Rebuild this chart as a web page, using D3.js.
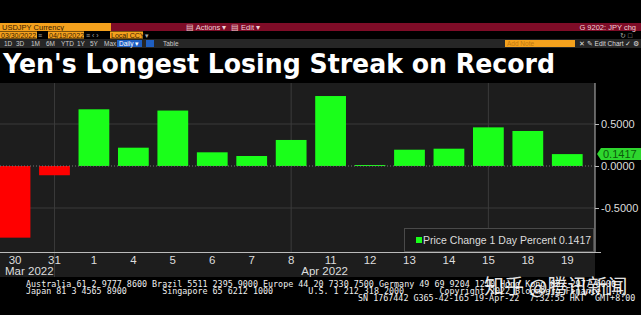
<!DOCTYPE html>
<html>
<head>
<meta charset="utf-8">
<script src="https://cdn.jsdelivr.net/npm/d3@7"></script>
<style>
  html, body { margin: 0; padding: 0; background: #000; }
  svg { display: block; }
</style>
</head>
<body>
<div id="chart"></div>
<script>
// chart data
var days = ["30", "31", "1", "4", "5", "6", "7", "8", "11", "12", "13", "14", "15", "18", "19"];
var changes = [-0.853, -0.11, 0.675, 0.218, 0.66, 0.163, 0.119, 0.31, 0.833, 0.012, 0.194, 0.206, 0.46, 0.417, 0.1417];
var yTicks = [-0.5, 0, 0.5];
var gridDays = ["31", "8", "15"];
var monthLabels = ["Mar 2022", "Apr 2022"];
var monthDays = ["30", "11"];
var lastValue = 0.1417;
var title = "Yen's Longest Losing Streak on Record";
var footer = [
  "Australia 61 2 9777 8600 Brazil 5511 2395 9000 Europe 44 20 7330 7500 Germany 49 69 9204 1210 Hong Kong 852 2977 6000",
  "Japan 81 3 4565 8900       Singapore 65 6212 1000       U.S. 1 212 318 2000       Copyright 2022 Bloomberg Finance L.P.",
  "SN 1767442 G365-42-165 19-Apr-22  7:32:55 HKT  GMT+8:00"
];

var W = 641, H = 315;
var plot = {left: 0, right: 595, top: 83, bottom: 252};

var svg = d3.select("#chart").append("svg")
    .attr("width", W)
    .attr("height", H)
    .style("font-family", "'Liberation Sans', Arial, sans-serif");

svg.append("rect").attr("width", W).attr("height", H).attr("fill", "#000");

// --- terminal header strips ---
var hdr = svg.append("g").attr("font-size", 7.5);
hdr.append("rect").attr("x", 0).attr("y", 23).attr("width", W).attr("height", 8).attr("fill", "#7e0c27");
hdr.append("rect").attr("x", 0).attr("y", 23).attr("width", 111).attr("height", 8).attr("fill", "#f4a11d");
hdr.append("text").attr("x", 2).attr("y", 30).attr("fill", "#3a2000").text("USDJPY Currency");
hdr.append("text").attr("x", 186).attr("y", 30).attr("fill", "#f0d0d8").text("\u25A4 Actions \u25BE");
hdr.append("text").attr("x", 231).attr("y", 30).attr("fill", "#f0d0d8").text("\u25A4 Edit \u25BE");
hdr.append("text").attr("x", 636).attr("y", 30).attr("text-anchor", "end").attr("fill", "#f0d0d8").text("G 9202: JPY chg");

var row2 = [{x: 0, w: 37, t: "03/30/2022"}, {x: 48, w: 36, t: "04/19/2022"}, {x: 110, w: 33, t: "Local CCY"}];
row2.forEach(function(d) {
  hdr.append("rect").attr("x", d.x).attr("y", 31.5).attr("width", d.w).attr("height", 7).attr("fill", "#f4a11d");
  hdr.append("text").attr("x", d.x + 1).attr("y", 38).attr("font-size", 7).attr("fill", "#3a2000").text(d.t);
});
hdr.append("text").attr("x", 38).attr("y", 38).attr("font-size", 7).attr("fill", "#aaa").text("\u2261");
hdr.append("text").attr("x", 86).attr("y", 38).attr("font-size", 7).attr("fill", "#aaa").text("\u2261 \u2039 \u203A");
hdr.append("text").attr("x", 145).attr("y", 38).attr("font-size", 7).attr("fill", "#aaa").text("\u25BE");
hdr.append("text").attr("x", 620).attr("y", 38).attr("font-size", 7).attr("fill", "#aaa").text("\u21BB \u25A1");

hdr.append("rect").attr("x", 0).attr("y", 39).attr("width", W).attr("height", 9).attr("fill", "#262626");
var periods = [["1D", 4], ["3D", 16], ["1M", 31], ["6M", 46], ["YTD", 61], ["1Y", 77], ["5Y", 90], ["Max", 104]];
periods.forEach(function(p) {
  hdr.append("text").attr("x", p[1]).attr("y", 46).attr("font-size", 6.5).attr("fill", "#ccc").text(p[0]);
});
hdr.append("rect").attr("x", 117).attr("y", 40).attr("width", 25).attr("height", 7).attr("fill", "#1f5fc2");
hdr.append("text").attr("x", 119).attr("y", 46).attr("font-size", 6.5).attr("fill", "#fff").text("Daily \u25BE");
hdr.append("rect").attr("x", 146).attr("y", 40).attr("width", 8).attr("height", 7).attr("fill", "#1f5fc2");
hdr.append("text").attr("x", 163).attr("y", 46).attr("font-size", 6.5).attr("fill", "#ccc").text("Table");
hdr.append("rect").attr("x", 505).attr("y", 40).attr("width", 70).attr("height", 7).attr("fill", "#f4a11d");
hdr.append("text").attr("x", 507).attr("y", 46).attr("font-size", 6.5).attr("fill", "#c07810").text("Add Note");
hdr.append("text").attr("x", 579).attr("y", 46).attr("font-size", 6.5).attr("fill", "#ddd").text("\u2715 \u270E Edit Chart  \u2713 \u2699");

// --- title ---
svg.append("text")
    .attr("x", 3).attr("y", 73)
    .attr("font-family", "'DejaVu Sans', Verdana, sans-serif")
    .attr("font-weight", "bold")
    .attr("font-size", 26)
    .attr("fill", "#fff")
    .attr("textLength", 552)
    .attr("lengthAdjust", "spacingAndGlyphs")
    .text(title);

// --- plot background ---
svg.append("rect").attr("x", 0).attr("y", plot.top).attr("width", plot.right).attr("height", 277 - plot.top).attr("fill", "#1d1d1d");

var x = d3.scaleBand()
    .domain(days)
    .range([-4.7, 587])
    .paddingInner(0.22)
    .paddingOuter(0.11);

var y = d3.scaleLinear()
    .domain([-1, 1])
    .range([250, 82]);

// gridlines
svg.append("g").selectAll("line.h")
  .data(yTicks.filter(function(v) { return v !== 0; }))
  .enter().append("line")
    .attr("x1", 0).attr("x2", plot.right)
    .attr("y1", function(d) { return y(d); }).attr("y2", function(d) { return y(d); })
    .attr("stroke", "#3b3b3b").attr("stroke-width", 1);

svg.append("g").selectAll("line.v")
  .data(gridDays)
  .enter().append("line")
    .attr("x1", function(d) { return x(d) + x.bandwidth() / 2; })
    .attr("x2", function(d) { return x(d) + x.bandwidth() / 2; })
    .attr("y1", plot.top).attr("y2", plot.bottom)
    .attr("stroke", "#3b3b3b").attr("stroke-width", 1);

// month separator below axis
svg.append("line")
    .attr("x1", x("31") + x.bandwidth() / 2).attr("x2", x("31") + x.bandwidth() / 2)
    .attr("y1", plot.bottom).attr("y2", 277)
    .attr("stroke", "#3b3b3b");

// bars
svg.append("g").selectAll("rect")
  .data(changes)
  .enter().append("rect")
    .attr("x", function(d, i) { return x(days[i]); })
    .attr("width", x.bandwidth())
    .attr("y", function(d) { return y(Math.max(0, d)); })
    .attr("height", function(d) { return Math.max(1, Math.abs(y(d) - y(0))); })
    .attr("fill", function(d) { return d < 0 ? "#ff0000" : "#1aff1a"; });

// zero line
svg.append("line")
    .attr("x1", 0).attr("x2", plot.right)
    .attr("y1", y(0)).attr("y2", y(0))
    .attr("stroke", "#777").attr("stroke-dasharray", "1,2");

// x axis
var xAxis = svg.append("g")
    .attr("transform", "translate(0," + plot.bottom + ")")
    .call(d3.axisBottom(x).tickSize(0).tickPadding(4));
xAxis.select(".domain").attr("stroke", "#bbb").attr("d", "M0,0.5H" + (plot.right + 6));
xAxis.selectAll("text").attr("fill", "#ddd").attr("font-size", 11.5)
    .attr("font-family", "'Liberation Sans', Arial, sans-serif");

// month labels, first one left-aligned at the edge, later ones centred under their day
svg.append("g").selectAll("text")
  .data(monthLabels)
  .enter().append("text")
    .attr("x", function(d, i) { return i === 0 ? 5 : x(monthDays[i]) + x.bandwidth() / 2 - 6; })
    .attr("y", 275)
    .attr("text-anchor", function(d, i) { return i === 0 ? "start" : "middle"; })
    .attr("fill", "#ddd")
    .attr("font-size", 11.5)
    .text(function(d) { return d; });

// right axis
var yAxis = svg.append("g")
    .attr("transform", "translate(" + plot.right + ",0)")
    .call(d3.axisRight(y).tickValues(yTicks).tickSize(4).tickPadding(2)
      .tickFormat(function(d) { return d3.format(".4f")(d).replace("\u2212", "-"); }));
yAxis.select(".domain").attr("stroke", "#bbb").attr("d", "M0," + plot.top + "V" + (plot.bottom + 1));
yAxis.selectAll("line").attr("stroke", "#bbb");
yAxis.selectAll("text").attr("fill", "#ddd").attr("font-size", 11)
    .attr("font-family", "'Liberation Sans', Arial, sans-serif");

// last value tag
var tagY = y(lastValue);
svg.append("path")
    .attr("d", "M597," + tagY + "L601," + (tagY - 6) + "H641V" + (tagY + 6) + "H601Z")
    .attr("fill", "#2ed62e");
svg.append("text")
    .attr("x", 603).attr("y", tagY + 4)
    .attr("font-size", 11)
    .attr("fill", "#0c5a0c")
    .text(lastValue.toFixed(4));

// legend
var leg = svg.append("g");
leg.append("rect")
    .attr("x", 404.5).attr("y", 228.5).attr("width", 189).attr("height", 23)
    .attr("fill", "#1a1a1a").attr("stroke", "#4a4a4a");
leg.append("rect").attr("x", 416).attr("y", 237).attr("width", 6).attr("height", 6).attr("fill", "#1aff1a");
leg.append("text")
    .attr("x", 423).attr("y", 244)
    .attr("font-size", 10.5)
    .attr("fill", "#ddd")
    .text("Price Change 1 Day Percent " + lastValue.toFixed(4));

// footer
var foot = svg.append("g")
    .attr("font-family", "'DejaVu Sans Mono', monospace")
    .attr("font-size", 8.4)
    .attr("fill", "#eee");
foot.append("text").attr("x", 26).attr("y", 287).text(footer[0]);
foot.append("text").attr("x", 26).attr("y", 294).style("white-space", "pre").text(footer[1]);
foot.append("text").attr("x", 358).attr("y", 301).style("white-space", "pre").text(footer[2]);

// watermark
svg.append("text")
    .attr("x", 484).attr("y", 294)
    .attr("font-family", "'Noto Sans CJK SC', sans-serif")
    .attr("font-size", 20)
    .attr("fill", "#fff")
    .attr("fill-opacity", 0.9)
    .text("知乎 @腾讯新闻");
</script>
</body>
</html>
